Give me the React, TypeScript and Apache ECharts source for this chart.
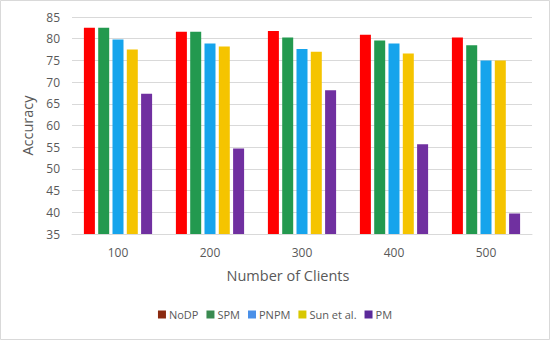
import React, { useEffect, useRef } from "react";
import * as echarts from "echarts";

const categories = ["100", "200", "300", "400", "500"];
const seriesNames = ["NoDP", "SPM", "PNPM", "Sun et al.", "PM"];
const noDP = [82.5, 81.6, 81.8, 80.9, 80.3];
const spm = [82.5, 81.6, 80.3, 79.6, 78.5];
const pnpm = [79.8, 78.9, 77.6, 78.9, 75.0];
const sunEtAl = [77.5, 78.2, 77.0, 76.6, 75.0];
const pm = [67.3, 54.7, 68.1, 55.7, 39.7];
const yTicks = { min: 35, max: 85, interval: 5 };

const barColors = ["#FF0000", "#23994F", "#16A4EC", "#F5C400", "#7030A0"];
const legendColors = ["#8B2A10", "#3A8A50", "#4A90E8", "#D8C800", "#5B2A9A"];

export default function App() {
  const ref = useRef<HTMLDivElement>(null);
  useEffect(() => {
    if (!ref.current) return;
    const chart = echarts.init(ref.current, undefined, { renderer: "svg" });
    const values = [noDP, spm, pnpm, sunEtAl, pm];
    const font = "'Open Sans', 'Noto Sans', sans-serif";
    chart.setOption({
      animation: false,
      backgroundColor: "#ffffff",
      textStyle: { fontFamily: font },
      graphic: [
        {
          type: "rect",
          shape: { x: 0.5, y: 0.5, width: 549, height: 339 },
          style: { fill: "none", stroke: "#D9D9D9", lineWidth: 1 },
          silent: true,
        },
      ],
      grid: { left: 72, right: 18, top: 17, bottom: 106, containLabel: false },
      legend: {
        bottom: 15,
        left: "center",
        itemWidth: 8,
        itemHeight: 8,
        itemGap: 8,
        icon: "rect",
        textStyle: { color: "#595959", fontSize: 11, fontFamily: font, padding: [0, 0, 0, -2] },
        data: seriesNames.map((n, i) => ({ name: n, itemStyle: { color: legendColors[i] } })),
      },
      xAxis: {
        type: "category",
        data: categories,
        name: "Number of Clients",
        nameLocation: "middle",
        nameGap: 34,
        nameTextStyle: { color: "#595959", fontSize: 14.5, fontFamily: font, padding: [0, 28, 0, 0] },
        axisLine: { show: true, lineStyle: { color: "#D9D9D9" } },
        axisTick: { show: false },
        axisLabel: { color: "#595959", fontSize: 12, margin: 12, fontFamily: font },
      },
      yAxis: {
        type: "value",
        min: yTicks.min,
        max: yTicks.max,
        interval: yTicks.interval,
        name: "Accuracy",
        nameLocation: "middle",
        nameGap: 32,
        nameTextStyle: { color: "#595959", fontSize: 14.5, fontFamily: font },
        axisLine: { show: false },
        axisTick: { show: false },
        axisLabel: { color: "#595959", fontSize: 12, margin: 12, fontFamily: font },
        splitLine: { lineStyle: { color: "#D9D9D9" } },
      },
      series: seriesNames.map((n, i) => ({
        name: n,
        type: "bar",
        data: values[i],
        barWidth: 11,
        barGap: "30%",
        itemStyle: { color: barColors[i] },
      })),
    });
    return () => chart.dispose();
  }, []);
  return (
    <div
      ref={ref}
      style={{ position: "fixed", left: 0, top: 0, width: 550, height: 340 }}
    />
  );
}
